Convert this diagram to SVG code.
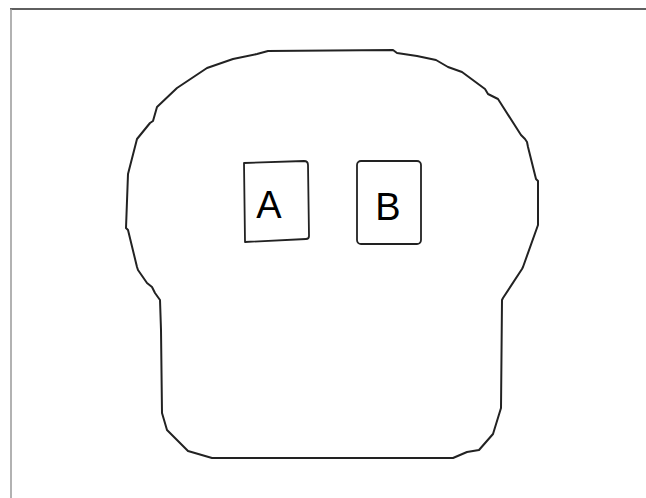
<svg xmlns="http://www.w3.org/2000/svg" width="646" height="498" viewBox="0 0 646 498">
<style>
.outline{fill:none;stroke:#222;stroke-width:2;stroke-linejoin:round}
.box{fill:#fff;stroke:#222;stroke-width:1.8;stroke-linejoin:round}
.lbl{font-family:"Liberation Sans",Arial,sans-serif;font-size:38px;fill:#000;text-anchor:middle}
</style>
<rect width="646" height="498" fill="#fff"/>
<g id="frame">
<line x1="10" y1="9" x2="646" y2="9" stroke="#2a2a2a" stroke-width="1.5"/>
<line x1="11" y1="9" x2="11" y2="498" stroke="#999" stroke-width="1.5"/>
</g>
<g id="blob">
<path class="outline" d="M268,51 L393,50 L397,53 L417,56 L436,60 L448,67 L462,72 L485,89 L488,94 L498,99 L521,135 L525,139 L527,142 L528,147 L536,179 L538,181 L538,225 L523,267 L522,269 L503,298 L502,300 L501,408 L493,434 L479,450 L467,452 L453,458 L212,458 L188,451 L167,430 L162,413 L161,330 L160,300 L155,293 L152,287 L147,283 L138,270 L137,267 L128,230 L126,228 L128,174 L137,139 L150,123 L153,121 L157,107 L177,88 L207,68 L233,59 L257,54 Z"/>
</g>
<g id="nodeA">
<path class="box" d="M244,163 L304,161 Q308,161 308,165 L309,236 Q309,239 306,239 L245,242 Z"/>
<text class="lbl" x="269" y="218">A</text>
</g>
<g id="nodeB">
<rect class="box" x="357" y="161" width="64" height="83" rx="4"/>
<text class="lbl" x="388" y="220">B</text>
</g>
<g id="connectors"></g>
</svg>
